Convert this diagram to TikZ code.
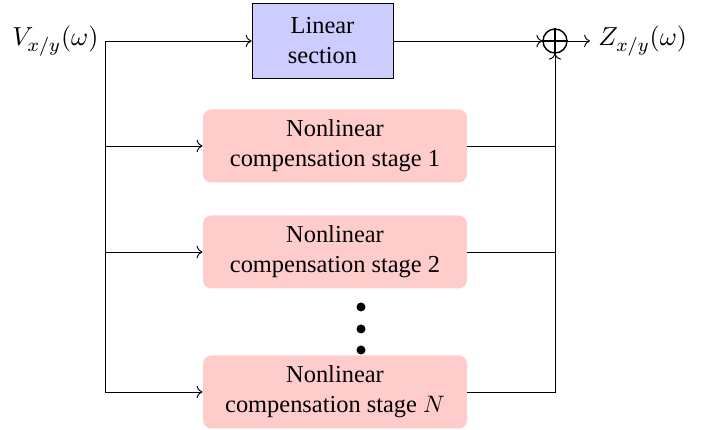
\documentclass[tikz,border=0pt]{standalone}
\usepackage{fontspec}
\setmainfont{Liberation Serif}
\usetikzlibrary{arrows.meta}
\begin{document}
\begin{tikzpicture}[x=0.42pt,y=-0.42pt,
  every node/.style={font=\fontsize{10.25}{12.6}\selectfont},
  sigl/.style={font=\fontsize{11}{13}\selectfont,inner sep=0pt},
  linbox/.style={draw=black,fill=blue!20,minimum width=141*0.42pt,minimum height=75*0.42pt,align=center,inner sep=0pt},
  nlbox/.style={fill=red!20,rounded corners=3.5pt,minimum width=264*0.42pt,minimum height=73*0.42pt,align=center,inner sep=0pt},
  dotnode/.style={circle,fill=black,inner sep=0pt,minimum size=9*0.42pt},
  sumnode/.style={circle,draw=black,line width=0.6pt,inner sep=0pt,minimum size=24*0.42pt}]
\useasboundingbox (0,0) rectangle (707,430);
\node[sigl,anchor=east] (in) at (99,41) {$V_{x/y}(\omega)$};
\coordinate (split) at (105,41);
\node[linbox] (lin) at (322.5,41) {Linear\\section};
\node[nlbox] (nl1) at (335,146) {Nonlinear\\compensation stage 1};
\node[nlbox] (nl2) at (335,252) {Nonlinear\\compensation stage 2};
\node[nlbox] (nlN) at (335,392) {Nonlinear\\compensation stage $N$};
\node[dotnode] (d1) at (361,307) {};
\node[dotnode] (d2) at (361,329) {};
\node[dotnode] (d3) at (361,350) {};
\node[sumnode] (sum) at (555,41) {};
\draw[line width=0.6pt] (sum.north) -- (sum.south) (sum.west) -- (sum.east);
\coordinate (outend) at (590,41);
\node[sigl,anchor=west] (out) at (598,41) {$Z_{x/y}(\omega)$};
\coordinate (bl) at (105,392);
\coordinate (b1) at (105,146);
\coordinate (b2) at (105,252);
\coordinate (r1) at (555,146);
\coordinate (r2) at (555,252);
\coordinate (rN) at (555,392);
\draw[->] (split) -- (lin.west);
\draw (split) -- (bl);
\draw[->] (b1) -- (nl1.west);
\draw[->] (b2) -- (nl2.west);
\draw[->] (bl) -- (nlN.west);
\draw[->] (lin.east) -- (sum.west);
\draw (nl1.east) -- (r1);
\draw (nl2.east) -- (r2);
\draw[->] (nlN.east) -- (rN) -- (sum.south);
\draw[->] (sum.east) -- (outend);
\end{tikzpicture}
\end{document}
